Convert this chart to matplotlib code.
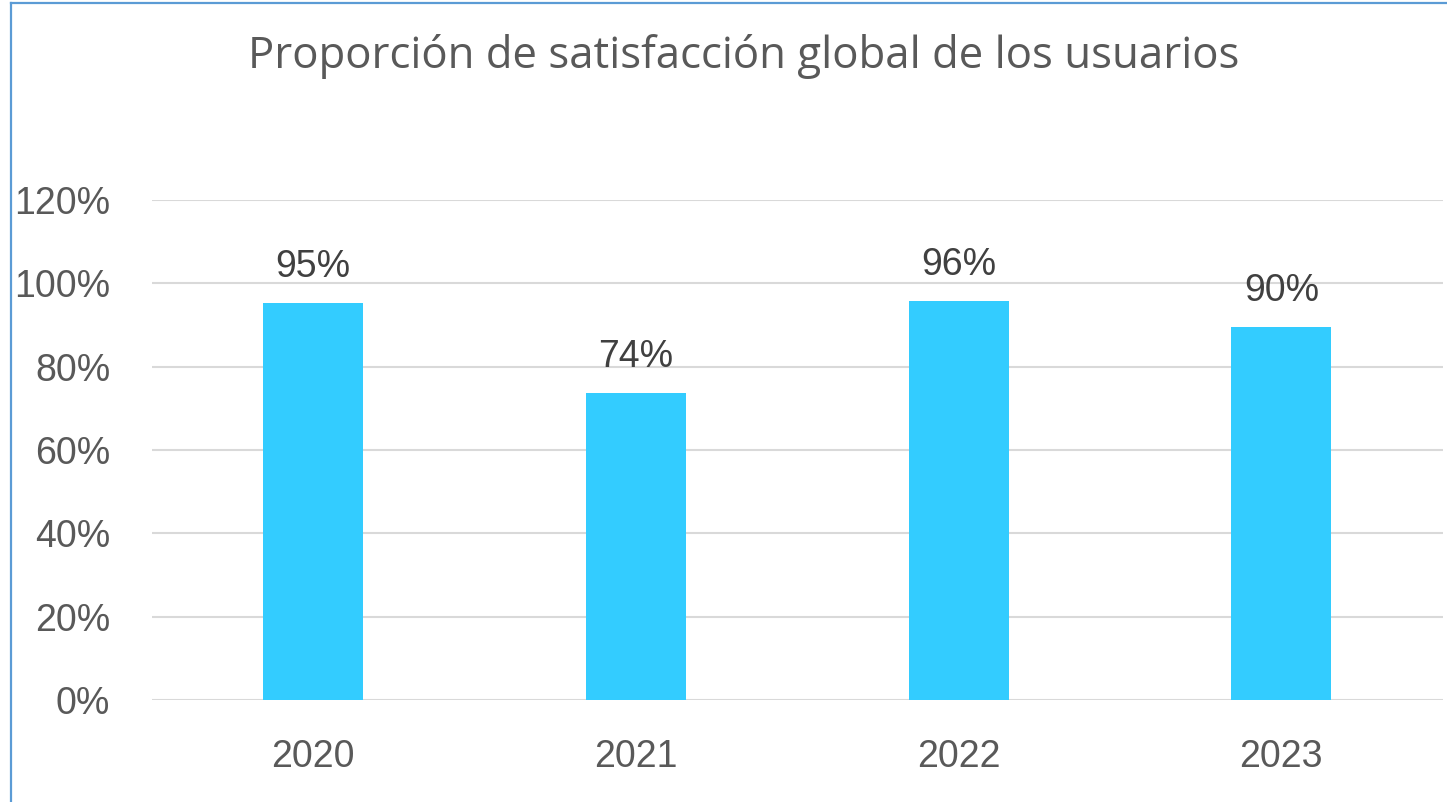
import matplotlib.pyplot as plt
from matplotlib.lines import Line2D
from matplotlib.ticker import PercentFormatter

years = ["2020", "2021", "2022", "2023"]
satisfaction = [0.953, 0.737, 0.958, 0.895]
y_ticks = [0, 0.2, 0.4, 0.6, 0.8, 1.0, 1.2]

plt.rcParams["font.family"] = ["Liberation Sans", "DejaVu Sans"]

fig = plt.figure(figsize=(14.47, 8.02), dpi=100)
ax = fig.add_axes([0.105, 0.1272, 0.892, 0.6234])

x = range(len(years))
bars = ax.bar(x, satisfaction, width=0.31, color="#33CCFF", zorder=3)
for rect, val in zip(bars, satisfaction):
    ax.text(rect.get_x() + rect.get_width() / 2, val + 0.043, f"{val:.0%}",
            ha="center", va="bottom", fontsize=27, color="#404040")

ax.set_xlim(-0.5, len(years) - 0.5)
ax.set_ylim(0, 1.2)
ax.set_yticks(y_ticks)
ax.yaxis.set_major_formatter(PercentFormatter(1.0, decimals=0))
ax.set_xticks(list(x))
ax.set_xticklabels(years)
ax.tick_params(axis="both", length=0, labelsize=27, labelcolor="#595959")
ax.tick_params(axis="x", pad=28)
ax.tick_params(axis="y", pad=30)
for lbl in ax.get_yticklabels():
    lbl.set_horizontalalignment("right")

ax.grid(axis="y", color="#D9D9D9", linewidth=1.5, zorder=0)
for s in ax.spines.values():
    s.set_visible(False)

fig.text(0.514, 0.929, "Proporción de satisfacción global de los usuarios",
         ha="center", va="center", fontsize=31.5, color="#595959",
         family=["Open Sans", "DejaVu Sans"])

# chart frame (clipped on the right and bottom)
fig.add_artist(Line2D([11 / 1447, 11 / 1447], [0, 1 - 3 / 802],
                      color="#5B9BD5", linewidth=1.6))
fig.add_artist(Line2D([11 / 1447, 1], [1 - 3 / 802, 1 - 3 / 802],
                      color="#5B9BD5", linewidth=1.6))

plt.savefig("out.png", dpi=100)
plt.close()
